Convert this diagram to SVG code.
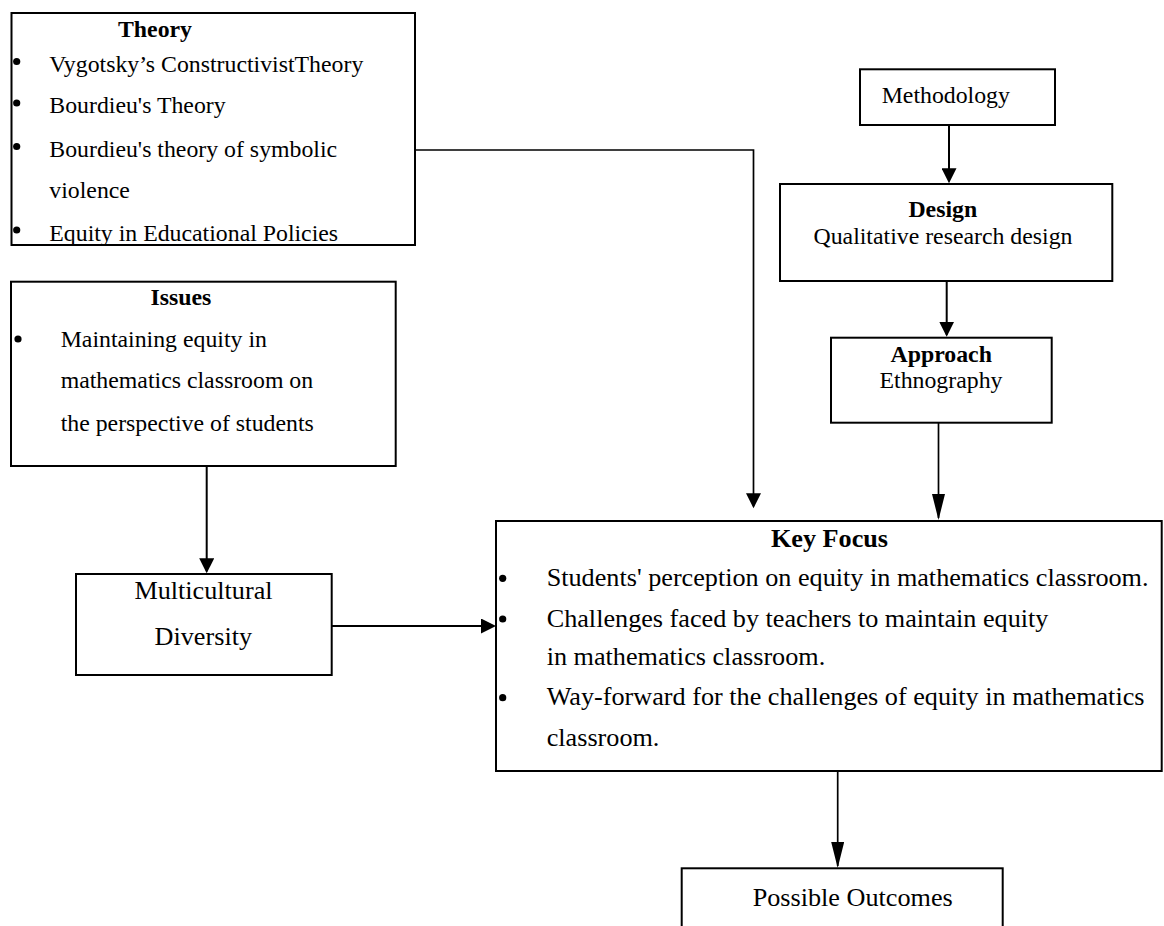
<svg xmlns="http://www.w3.org/2000/svg" width="1164" height="926" viewBox="0 0 1164 926">
<style>
.box{fill:#fff;stroke:#000;stroke-width:2}
.t{font-family:"Liberation Serif","Times New Roman",serif;fill:#000}
.s{font-size:23.8px}
.l{font-size:26.2px}
.b{font-weight:bold}
.m{text-anchor:middle}
.c{fill:none;stroke:#000;stroke-width:2}
.cn{fill:none;stroke:#000;stroke-width:1.7}
.dot{fill:#000}
</style>
<defs>
<marker id="ah" markerUnits="userSpaceOnUse" markerWidth="16" markerHeight="15" refX="13" refY="7.5" orient="auto">
<path d="M0,0 L15,7.5 L0,15 z" fill="#000"/>
</marker>
<marker id="al" markerUnits="userSpaceOnUse" markerWidth="27" markerHeight="13" refX="24" refY="6.5" orient="auto">
<path d="M0,0 L26,6.5 L0,13 z" fill="#000"/>
</marker>
</defs>
<rect width="1164" height="926" fill="#fff"/>

<g id="connectors">
<path class="cn" d="M415,150 H753.5 V506.3" marker-end="url(#ah)"/>
<path class="c" d="M949,125 V181.3" marker-end="url(#ah)"/>
<path class="c" d="M946.7,281 V334.7" marker-end="url(#ah)"/>
<path class="cn" d="M938.5,422.7 V518" marker-end="url(#al)"/>
<path class="c" d="M206.7,466 V571.3" marker-end="url(#ah)"/>
<path class="c" d="M331.7,626 H494" marker-end="url(#ah)"/>
<path class="cn" d="M837.7,771 V866" marker-end="url(#al)"/>
</g>

<g id="theory">
<rect class="box" x="11.5" y="13" width="403.5" height="232"/>
<text class="t s b m" x="155" y="37">Theory</text>
<circle class="dot" cx="16.7" cy="61.5" r="3.6"/>
<circle class="dot" cx="16.7" cy="103" r="3.6"/>
<circle class="dot" cx="16.7" cy="146.5" r="3.6"/>
<circle class="dot" cx="16.7" cy="230" r="3.6"/>
<text class="t s" x="49.3" y="72">Vygotsky’s ConstructivistTheory</text>
<text class="t s" x="49.3" y="113.3">Bourdieu's Theory</text>
<text class="t s" x="49.3" y="156.7">Bourdieu's theory of symbolic</text>
<text class="t s" x="49.3" y="198.3">violence</text>
<text class="t s" x="49.3" y="240.7">Equity in Educational Policies</text>
</g>

<g id="issues">
<rect class="box" x="11" y="281.7" width="384.7" height="184.3"/>
<text class="t s b m" x="180.8" y="305">Issues</text>
<circle class="dot" cx="18" cy="339" r="3.6"/>
<text class="t s" x="60.7" y="346.7">Maintaining equity in</text>
<text class="t s" x="60.7" y="388.3">mathematics classroom on</text>
<text class="t s" x="60.7" y="431">the perspective of students</text>
</g>

<g id="multicultural">
<rect class="box" x="76" y="574" width="255.7" height="101"/>
<text class="t l m" x="203.5" y="599.3">Multicultural</text>
<text class="t l m" x="203.3" y="645">Diversity</text>
</g>

<g id="methodology">
<rect class="box" x="860" y="69.3" width="195" height="55.7"/>
<text class="t s" x="881.7" y="102.7">Methodology</text>
</g>

<g id="design">
<rect class="box" x="780" y="184" width="332.3" height="97"/>
<text class="t s b m" x="942.8" y="217.3">Design</text>
<text class="t s m" x="943" y="244.3">Qualitative research design</text>
</g>

<g id="approach">
<rect class="box" x="831" y="337.7" width="220.7" height="85"/>
<text class="t s b m" x="941.2" y="361.7">Approach</text>
<text class="t s m" x="941" y="388.3">Ethnography</text>
</g>

<g id="keyfocus">
<rect class="box" x="496" y="521" width="665.7" height="250"/>
<text class="t l b m" x="829.5" y="547.3">Key Focus</text>
<circle class="dot" cx="502.7" cy="578.3" r="3.6"/>
<circle class="dot" cx="502.7" cy="619" r="3.6"/>
<circle class="dot" cx="502.7" cy="697.7" r="3.6"/>
<text class="t l" x="546.7" y="586">Students' perception on equity in mathematics classroom.</text>
<text class="t l" x="546.7" y="626.7">Challenges faced by teachers to maintain equity</text>
<text class="t l" x="546.7" y="665">in mathematics classroom.</text>
<text class="t l" x="546.7" y="705">Way-forward for the challenges of equity in mathematics</text>
<text class="t l" x="546.7" y="745.7">classroom.</text>
</g>

<g id="outcomes">
<rect class="box" x="681.7" y="868.3" width="321" height="80"/>
<text class="t l" x="752.7" y="905.7">Possible Outcomes</text>
</g>
</svg>
